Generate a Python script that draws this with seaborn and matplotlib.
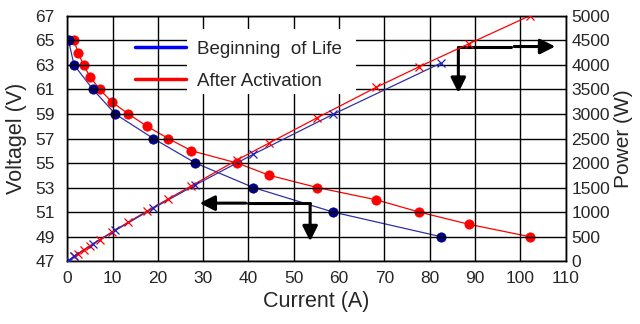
import matplotlib
matplotlib.use("Agg")
import matplotlib.pyplot as plt
import seaborn as sns
import pandas as pd
from matplotlib.patches import Rectangle

# Beginning of Life
bol_current = [0.3, 1.5, 5.7, 10.6, 19.0, 28.3, 41.1, 58.7, 82.4]
bol_voltage = [65, 63, 61, 59, 57, 55, 53, 51, 49]
bol_power = [20, 95, 350, 625, 1080, 1555, 2180, 2995, 4035]

# After Activation
aa_current = [1.5, 2.4, 3.6, 5.1, 7.2, 9.8, 13.5, 17.6, 22.3, 27.4,
              37.5, 44.6, 55.2, 68.2, 77.7, 88.7, 102.0]
aa_voltage = [65, 64, 63, 62, 61, 60, 59, 58, 57, 56,
              55, 54, 53, 52, 51, 50, 49]
aa_power = [98, 155, 227, 316, 440, 590, 797, 1020, 1270, 1535,
            2065, 2410, 2925, 3545, 3965, 4435, 5000]

bol = pd.DataFrame({"I": bol_current, "V": bol_voltage, "P": bol_power})
aa = pd.DataFrame({"I": aa_current, "V": aa_voltage, "P": aa_power})

sns.set_style("ticks")
plt.rcParams['font.family'] = ['Liberation Sans', 'DejaVu Sans']

fig = plt.figure(figsize=(6.4, 3.24), dpi=100)
ax = fig.add_axes([0.105, 0.194, 0.779, 0.757])
ax2 = ax.twinx()

red = "#ff0000"
blue_line = "#3030a8"
navy = "#000080"

ax.set_xlim(0, 110)
ax.set_ylim(47, 67)
ax.set_xticks(range(0, 111, 10))
ax.set_yticks(range(47, 68, 2))
ax2.set_ylim(0, 5000)
ax2.set_yticks(range(0, 5001, 500))

# grid lines at the tick positions, drawn on the front axes below the data
for xt in ax.get_xticks():
    ax2.axvline(xt, color="black", lw=1.0, zorder=1.2)
for yt in ax2.get_yticks():
    ax2.axhline(yt, color="black", lw=1.0, zorder=1.2)

# white box behind the legend text
ax2.add_patch(Rectangle((0.240, 0.682), 0.339, 0.265, transform=ax2.transAxes,
                        facecolor="white", edgecolor="none", zorder=1.3))

# voltage curves
sns.lineplot(data=aa, x="I", y="V", ax=ax, color=red, lw=0.9, sort=False, zorder=2.5)
sns.lineplot(data=bol, x="I", y="V", ax=ax, color=blue_line, lw=0.9, sort=False, zorder=2.5)
sns.scatterplot(data=aa, x="I", y="V", ax=ax, color=red, s=45, edgecolor=red, zorder=3)
sns.scatterplot(data=bol, x="I", y="V", ax=ax, color=navy, s=45, edgecolor=navy, zorder=3)

# power curves
sns.lineplot(data=aa, x="I", y="P", ax=ax2, color=red, lw=0.9, sort=False, zorder=2.5)
sns.lineplot(data=bol, x="I", y="P", ax=ax2, color=blue_line, lw=0.9, sort=False, zorder=2.5)
ax2.plot(aa["I"], aa["P"], ls="none", marker="x", ms=6, mew=0.9, color=red, zorder=3)
ax2.plot(bol["I"], bol["P"], ls="none", marker="x", ms=6, mew=0.9, color="#2020c0", zorder=3)

ax.set_xlim(0, 110)
ax.set_ylim(47, 67)
ax2.set_ylim(0, 5000)

for a in (ax, ax2):
    for sp in a.spines.values():
        sp.set_color("black")
        sp.set_linewidth(1.0)
    a.tick_params(length=0, labelsize=12.5, pad=4)
ax.tick_params(axis="x", pad=7)
ax.tick_params(axis="y", pad=9)

ax.set_xlabel("Current (A)", fontsize=15.5, labelpad=4)
ax.set_ylabel("Voltagel (V)", fontsize=15.5, labelpad=6)
ax2.set_ylabel("Power (W)", fontsize=15, labelpad=3)

# legend (placed on the front axes so the grid does not cross the text)
ax2.plot([], [], color="#0000ff", lw=2.5, label="Beginning  of Life")
ax2.plot([], [], color=red, lw=2.5, label="After Activation")
ax2.legend(loc="upper left", bbox_to_anchor=(0.136, 0.90), frameon=False,
           borderpad=0, borderaxespad=0, fontsize=13.5, handlelength=2.7,
           handletextpad=0.6, labelspacing=0.82)

# arrows
arrow_kw = dict(arrowstyle="-|>,head_width=0.45,head_length=0.9", color="black", lw=2.2)
ax.plot([53.6, 40], [51.73, 51.73], color="black", lw=2.2, zorder=4)
ax.annotate("", xy=(28.6, 51.73), xytext=(40, 51.73), arrowprops=arrow_kw)
ax.annotate("", xy=(53.6, 48.4), xytext=(53.6, 51.85), arrowprops=arrow_kw)
ax.plot([86.3, 98], [64.5, 64.5], color="black", lw=2.2, zorder=4)
ax.annotate("", xy=(108.3, 64.5), xytext=(98, 64.5), arrowprops=arrow_kw,
            annotation_clip=False)
ax.annotate("", xy=(86.3, 60.5), xytext=(86.3, 64.62), arrowprops=arrow_kw)

fig.savefig("out.png", dpi=100)
